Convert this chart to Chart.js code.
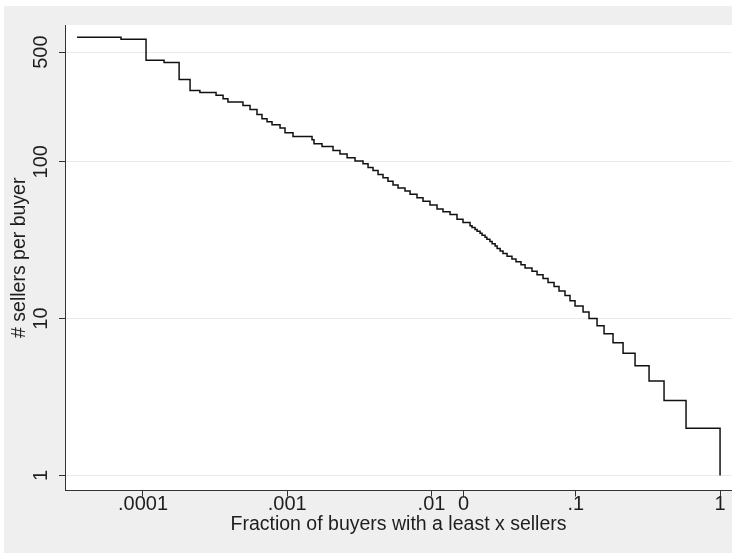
<!DOCTYPE html>
<html>
<head>
<meta charset="utf-8">
<script src="https://cdn.jsdelivr.net/npm/chart.js@4.4.0/dist/chart.umd.min.js"></script>
<style>
  html, body { margin: 0; padding: 0; background: #fff; }
  canvas { display: block; }
</style>
</head>
<body>
<canvas id="ccdf" width="732" height="557"></canvas>
<script>
// fraction of buyers with at least x sellers, and the x (sellers) level
const fractions = [
  3.49e-5, 7.04e-5, 1.05e-4, 1.40e-4, 1.78e-4, 2.12e-4, 2.48e-4, 3.21e-4, 3.59e-4, 3.88e-4,
  4.93e-4, 5.52e-4, 6.17e-4, 6.68e-4, 7.24e-4, 7.84e-4, 8.91e-4, 9.65e-4, 1.096e-3, 1.485e-3,
  1.532e-3, 1.741e-3, 2.076e-3, 2.32e-3, 2.60e-3, 2.95e-3, 3.35e-3, 3.63e-3, 3.93e-3, 4.26e-3,
  4.61e-3, 4.99e-3, 5.41e-3, 5.86e-3, 6.55e-3, 7.10e-3, 7.93e-3, 8.73e-3, 9.76e-3, 1.092e-2,
  1.201e-2, 1.344e-2, 1.502e-2, 1.653e-2, 1.849e-2, 1.909e-2, 2.003e-2, 2.07e-2, 2.17e-2, 2.24e-2,
  2.35e-2, 2.42e-2, 2.54e-2, 2.63e-2, 2.76e-2, 2.85e-2, 2.99e-2, 3.13e-2, 3.34e-2, 3.61e-2,
  3.85e-2, 4.17e-2, 4.45e-2, 4.97e-2, 5.39e-2, 5.93e-2, 6.42e-2, 7.07e-2, 7.65e-2, 8.42e-2,
  9.12e-2, 0.0988, 0.1123, 0.1235, 0.1404, 0.157, 0.1812, 0.2127, 0.2575, 0.322,
  0.409, 0.581, 1
];
const sellers = [
  621, 603, 444, 429, 334, 284, 276, 265, 252, 240,
  228, 215, 200, 188, 180, 172, 164, 153, 145, 138,
  130, 125, 118, 112, 106, 101, 97, 92, 88, 83,
  79, 75, 71, 68, 65, 62, 59, 56, 53, 50,
  48, 46, 43, 41, 39, 38, 37, 36, 35, 34,
  33, 32, 31, 30, 29, 28, 27, 26, 25, 24,
  23, 22, 21, 20, 19, 18, 17, 16, 15, 14,
  13, 12, 11, 10, 9, 8, 7, 6, 5, 4,
  3, 2, 1
];

const xTickVals = [0.0001, 0.001, 0.01, 0.0167, 0.1, 1];
const xTickLabels = ['.0001', '.001', '.01', '0', '.1', '1'];
const yTickVals = [1, 10, 100, 500];
const yTickLabels = ['1', '10', '100', '500'];

const FONT = "'Liberation Sans', Arial, sans-serif";
Chart.defaults.font.family = FONT;
Chart.defaults.font.size = 20;
Chart.defaults.font.lineHeight = 1;
Chart.defaults.color = '#1e1e1e';

const points = fractions.map((f, i) => ({ x: f, y: sellers[i] }));

// stata-like background: gray panel, white plot region
const panelBg = {
  id: 'panelBg',
  beforeDraw(chart) {
    const { ctx, chartArea: a } = chart;
    ctx.save();
    ctx.fillStyle = '#ffffff';
    ctx.fillRect(0, 0, chart.width, chart.height);
    ctx.fillStyle = '#efefef';
    ctx.fillRect(4, 6, chart.width - 4, 547);
    ctx.fillStyle = '#ffffff';
    ctx.fillRect(a.left, a.top, a.right - a.left, a.bottom - a.top);
    ctx.restore();
  },
  afterDraw(chart) {
    // vertical y tick labels
    const ctx = chart.ctx, ys = chart.scales.y;
    ctx.save();
    ctx.font = '20px ' + FONT;
    ctx.fillStyle = '#1e1e1e';
    ctx.textAlign = 'center';
    ctx.textBaseline = 'middle';
    yTickVals.forEach((v, i) => {
      ctx.save();
      ctx.translate(41, ys.getPixelForValue(v));
      ctx.rotate(-Math.PI / 2);
      ctx.fillText(yTickLabels[i], 0, 0);
      ctx.restore();
    });
    ctx.restore();
  }
};

new Chart(document.getElementById('ccdf').getContext('2d'), {
  type: 'line',
  data: {
    datasets: [{
      data: points,
      stepped: true,
      borderColor: '#111111',
      borderWidth: 1.5,
      pointRadius: 0,
      fill: false
    }]
  },
  options: {
    responsive: false,
    animation: false,
    layout: { padding: { top: 25, right: 0, bottom: 20, left: 0 } },
    plugins: { legend: { display: false }, tooltip: { enabled: false } },
    scales: {
      x: {
        type: 'logarithmic',
        min: 2.88e-5,
        max: 1.21,
        afterBuildTicks: (s) => { s.ticks = xTickVals.map(v => ({ value: v })); },
        ticks: {
          padding: -2,
          autoSkip: false,
          maxRotation: 0,
          callback: (v, i) => xTickLabels[i]
        },
        grid: { display: true, drawOnChartArea: false, drawTicks: true, tickLength: 6, tickColor: '#333' },
        border: { color: '#333', width: 1 },
        title: {
          display: true,
          text: 'Fraction of buyers with a least x sellers',
          font: { size: 19.5 },
          padding: { top: 2, bottom: 3 }
        }
      },
      y: {
        type: 'logarithmic',
        min: 0.801,
        max: 744,
        afterBuildTicks: (s) => { s.ticks = yTickVals.map(v => ({ value: v })); },
        ticks: { display: false },
        grid: { color: '#eaeaea', tickLength: 6, tickColor: '#333' },
        border: { color: '#333', width: 1 },
        title: {
          display: true,
          text: '# sellers per buyer',
          font: { size: 19.5 },
          padding: { top: 10, bottom: 29.5 }
        }
      }
    }
  },
  plugins: [panelBg]
});
</script>
</body>
</html>
